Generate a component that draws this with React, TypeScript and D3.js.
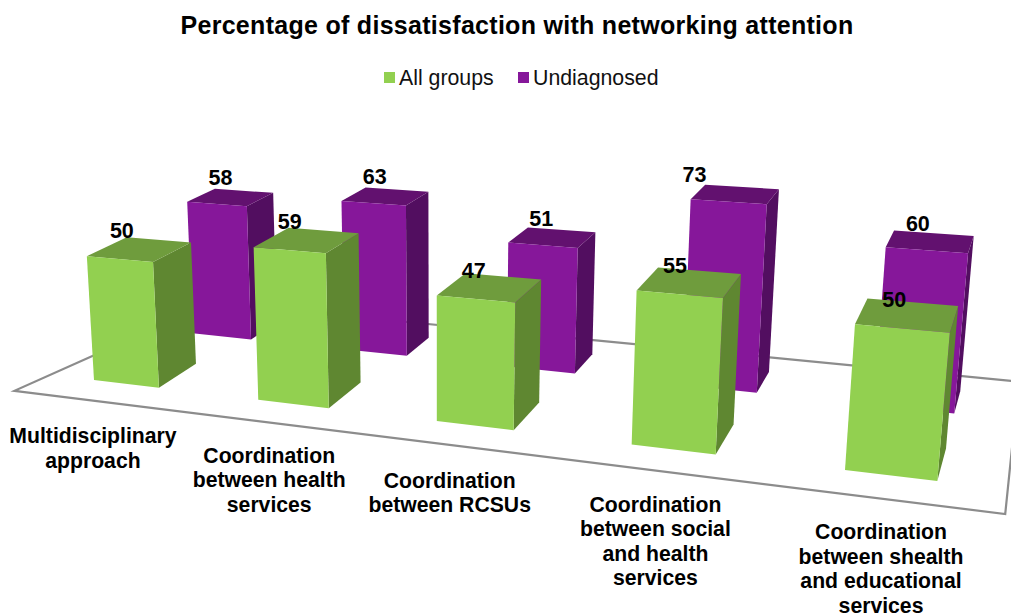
import React from 'react';
import * as d3 from 'd3';

const categories = [
  ['Multidisciplinary', 'approach'],
  ['Coordination', 'between health', 'services'],
  ['Coordination', 'between RCSUs'],
  ['Coordination', 'between social', 'and health', 'services'],
  ['Coordination', 'between shealth', 'and educational', 'services'],
];
const allGroups = [50, 59, 47, 55, 50];
const undiagnosed = [58, 63, 51, 73, 60];

const width = 1011, height = 616;
const indices = categories.map((_, i) => i);

// scene units: x = category slot, z = depth, y = share of 100%
const greenX = d3.scaleLinear().domain([0, 4]).range([0, 4]);
const purpleX = d3.scaleLinear().domain([0, 4]).range([0.117, 4.015]);
const labelX = d3.scaleLinear().domain([0, 4]).range([0.5, 4.24]);
const greenY = d3.scaleLinear().domain([0, 100]).range([0, 1]);
const purpleY = d3.scaleLinear().domain([0, 100]).range([0, 0.98]);
const greenLabelOffset = d3.scaleLinear().domain([0, 4]).range([0.216, 0.17]);
const purpleLabelOffset = d3.scaleLinear().domain([0, 4]).range([0.216, 0.152]);

// hand nudges for the wrapped category labels
const categoryDx = [-8, -1, -5, -1, 3];
const categoryDy = [5, 2, 2, -1, -3];

// camera fitted by eye against the picture
const project = (x: number, y: number, z: number): [number, number] => {
  const w = 1 - 0.04 * x - 0.0404 * y + z;
  return [
    (94 + 153.95 * x - 17.8 * y + 1130 * z) / w,
    (380 + 3.7 * x - 258 * y - 240 * z) / w,
  ];
};

const poly = d3.line().curve(d3.curveLinearClosed);

const series = [
  { name: 'All groups', values: allGroups, x: greenX, y: greenY, off: greenLabelOffset, w: 0.405, z0: 0, z1: 0.039, front: '#92d050', top: '#6f9c3d', side: '#5f8731', labelDx: [0, 0, 0, 0, 0], labelDy: -21 },
  { name: 'Undiagnosed', values: undiagnosed, x: purpleX, y: purpleY, off: purpleLabelOffset, w: 0.385, z0: 0.085, z1: 0.117, front: '#86179a', top: '#62116f', side: '#520e60', labelDx: [0, 0, 0, -29, 0], labelDy: -19 },
];

const floor: [number, number][] = [
  project(-0.32, 0, -0.027),
  project(4.71, 0, -0.0262),
  project(4.67, 0, 0.14),
  project(-0.07, 0, 0.14),
];

const Bar = ({ s, i }: any) => {
  const x0 = s.x(i), x1 = x0 + s.w, y = s.y(s.values[i]);
  const front = [project(x0, 0, s.z0), project(x1, 0, s.z0), project(x1, y, s.z0), project(x0, y, s.z0)];
  const top = [project(x0, y, s.z0), project(x1, y, s.z0), project(x1, y, s.z1), project(x0, y, s.z1)];
  const side = [project(x1, 0, s.z0), project(x1, 0, s.z1), project(x1, y, s.z1), project(x1, y, s.z0)];
  return (
    <g>
      <path d={poly(side as any)!} fill={s.side} />
      <path d={poly(top as any)!} fill={s.top} />
      <path d={poly(front as any)!} fill={s.front} />
    </g>
  );
};

export default function App() {
  const font = '"Liberation Sans", Arial, sans-serif';
  return (
    <svg width={width} height={height} style={{ position: 'absolute', left: 0, top: 0 }} fontFamily={font}>
      <rect width={width} height={height} fill="#fff" />
      <text x={517} y={34} textAnchor="middle" fontSize={25} letterSpacing={0.29} fontWeight="bold">
        Percentage of dissatisfaction with networking attention
      </text>

      {/* legend */}
      <rect x={384} y={72} width={11} height={11} fill={series[0].front} />
      <text x={399} y={85} fontSize={21.3} fill="#111">{series[0].name}</text>
      <rect x={518} y={72} width={11} height={11} fill={series[1].front} />
      <text x={533} y={85} fontSize={21.3} fill="#111">{series[1].name}</text>

      <path d={poly(floor as any)!} fill="#fff" stroke="#8c8c8c" strokeWidth={2.2} />

      {/* back row first so the front row covers it */}
      {[series[1], series[0]].map(s => indices.map(i => <Bar key={s.name + i} s={s} i={i} />))}

      {series.map(s =>
        indices.map(i => {
          const [px, py] = project(s.x(i) + s.off(i), s.y(s.values[i]), s.z0);
          return (
            <text key={s.name + i} x={px + s.labelDx[i]} y={py + s.labelDy} textAnchor="middle" fontSize={21.5} fontWeight="bold">
              {s.values[i]}
            </text>
          );
        })
      )}

      {categories.map((lines, i) => {
        const [px, py] = project(labelX(i), 0, -0.07);
        return (
          <text key={i} textAnchor="middle" fontSize={21.2} fontWeight="bold">
            {lines.map((line, j) => (
              <tspan key={j} x={px + categoryDx[i]} y={py + categoryDy[i] + j * 24.5}>{line}</tspan>
            ))}
          </text>
        );
      })}
    </svg>
  );
}
